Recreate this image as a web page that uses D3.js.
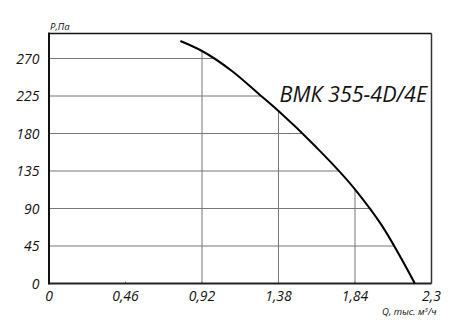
<!DOCTYPE html>
<html>
<head>
<meta charset="utf-8">
<script src="https://cdn.jsdelivr.net/npm/d3@7"></script>
<style>
  body { margin: 0; background: #fff; }
  svg { display: block; }
  text { font-family: "Open Sans", sans-serif; font-style: italic; fill: #111; }
</style>
</head>
<body>
<svg id="chart" width="471" height="333"></svg>
<script>
// fan curve
var flowQ = [0.79, 0.92, 1.1, 1.27, 1.38, 1.6, 1.84, 2.0, 2.2];
var pressureP = [291, 279, 255, 226, 207, 165, 113, 70, 0];
var xTicks = [0, 0.46, 0.92, 1.38, 1.84, 2.3];
var yTicks = [0, 45, 90, 135, 180, 225, 270];
var title = "ВМК 355-4D/4E";

var margin = { top: 33.5, right: 39.5, bottom: 49.5, left: 49 };
var width = 471 - margin.left - margin.right;
var height = 333 - margin.top - margin.bottom;

var x = d3.scaleLinear().domain([0, 2.3]).range([0, width]);
var y = d3.scaleLinear().domain([0, 300]).range([height, 0]);

var points = flowQ.map(function (q, i) { return { q: q, p: pressureP[i] }; });

var svg = d3.select("#chart")
  .append("g")
  .attr("transform", "translate(" + margin.left + "," + margin.top + ")");

// clip region: everything left of / under the curve
var clip = svg.append("clipPath").attr("id", "under");
clip.append("path")
  .attr("d", d3.area()
    .x(function (d) { return x(d.q); })
    .y0(y(0))
    .y1(function (d) { return y(d.p); })
    .curve(d3.curveMonotoneX)(points));
clip.append("rect")
  .attr("x", 0)
  .attr("y", y(points[0].p))
  .attr("width", x(points[0].q) + 0.5)
  .attr("height", height - y(points[0].p));

var grid = svg.append("g").attr("clip-path", "url(#under)");

grid.selectAll(".hgrid")
  .data(yTicks.slice(1))
  .enter()
  .append("line")
  .attr("x1", 0)
  .attr("x2", width)
  .attr("y1", function (d) { return y(d); })
  .attr("y2", function (d) { return y(d); })
  .attr("stroke", "#777")
  .attr("stroke-width", 1);

grid.selectAll(".vgrid")
  .data(xTicks.filter(function (t) { return t > flowQ[0] && t < 2.3; }))
  .enter()
  .append("line")
  .attr("x1", function (d) { return x(d); })
  .attr("x2", function (d) { return x(d); })
  .attr("y1", 0)
  .attr("y2", height)
  .attr("stroke", "#777")
  .attr("stroke-width", 1);

// small ticks on the bottom axis
svg.selectAll(".xtick")
  .data(xTicks.slice(1, -1))
  .enter()
  .append("line")
  .attr("x1", function (d) { return x(d); })
  .attr("x2", function (d) { return x(d); })
  .attr("y1", height)
  .attr("y2", height - 2)
  .attr("stroke", "#777");

// frame
svg.append("line").attr("x1", 0).attr("x2", width).attr("y1", 0).attr("y2", 0)
  .attr("stroke", "#111").attr("stroke-width", 1.5);
svg.append("line").attr("x1", width).attr("x2", width).attr("y1", 0).attr("y2", height)
  .attr("stroke", "#333").attr("stroke-width", 1.5);
svg.append("line").attr("x1", 0).attr("x2", 0).attr("y1", -1).attr("y2", height + 1)
  .attr("stroke", "#111").attr("stroke-width", 2);
svg.append("line").attr("x1", 0).attr("x2", width).attr("y1", height).attr("y2", height)
  .attr("stroke", "#222").attr("stroke-width", 2);

// curve
svg.append("path")
  .datum(points)
  .attr("fill", "none")
  .attr("stroke", "#000")
  .attr("stroke-width", 2)
  .attr("d", d3.line()
    .x(function (d) { return x(d.q); })
    .y(function (d) { return y(d.p); })
    .curve(d3.curveMonotoneX));

// tick labels
svg.selectAll(".ylabel")
  .data(yTicks)
  .enter()
  .append("text")
  .attr("x", -9.5)
  .attr("y", function (d) { return y(d) + 5; })
  .attr("text-anchor", "end")
  .style("font-size", "14px")
  .text(function (d) { return d; });

svg.selectAll(".xlabel")
  .data(xTicks)
  .enter()
  .append("text")
  .attr("x", function (d) { return x(d); })
  .attr("y", height + 17)
  .attr("text-anchor", "middle")
  .style("font-size", "14px")
  .text(function (d) { return String(d).replace(".", ","); });

// axis titles
svg.append("text")
  .attr("x", 1)
  .attr("y", -4)
  .style("font-size", "9.5px")
  .text("Р,Па");

svg.append("text")
  .attr("x", width + 5)
  .attr("y", height + 31.5)
  .attr("text-anchor", "end")
  .style("font-size", "9.5px")
  .html("Q, тыс. м<tspan dy='-3' style='font-size:6px'>3</tspan><tspan dy='3'>/ч</tspan>");

svg.append("text")
  .attr("x", width - 4.5)
  .attr("y", 68)
  .attr("text-anchor", "end")
  .style("font-size", "21.5px")
  .text(title);
</script>
</body>
</html>
